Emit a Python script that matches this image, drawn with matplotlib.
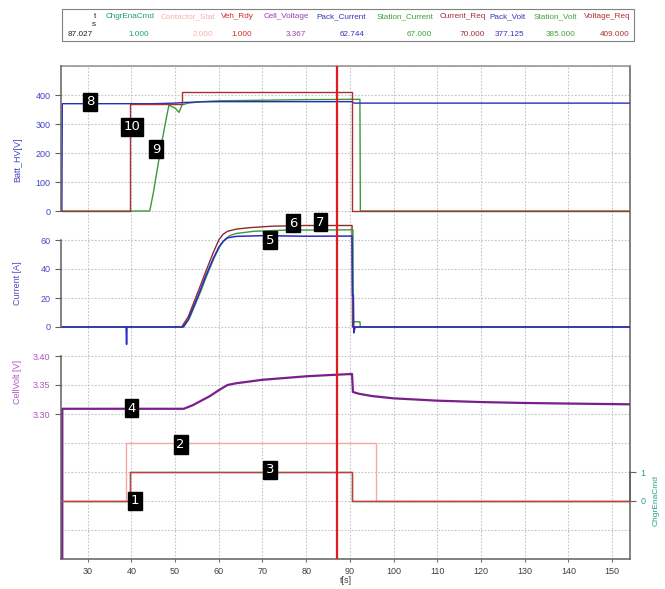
import matplotlib
matplotlib.use('Agg')
import matplotlib.pyplot as plt
from matplotlib.patches import Rectangle
from matplotlib.ticker import FormatStrFormatter

plt.rcParams['font.family'] = ['Liberation Sans', 'DejaVu Sans']

# --- header table (cursor readout) ---
header_names = ['t', 'ChgrEnaCmd', 'Contactor_Stat', 'Veh_Rdy', 'Cell_Voltage', 'Pack_Current',
                'Station_Current', 'Current_Req', 'Pack_Volt', 'Station_Volt', 'Voltage_Req']
header_values = ['87.027', '1.000', '2.000', '1.000', '3.367', '62.744',
                 '67.000', '70.000', '377.125', '385.000', '409.000']
header_colors = ['#202020', '#1f9c7c', '#f2b2ac', '#d42a2a', '#9a3fb0', '#3535c0',
                 '#3aa03a', '#a0303a', '#3535c0', '#40a040', '#b03030']
header_right = [96, 155, 215, 254, 309, 366, 433, 486, 525, 577, 630]
value_right = [93, 149, 213, 252, 306, 364, 432, 485, 524, 576, 630]

cursor_t = 87.027

# --- Batt_HV panel ---
pack_volt_t = [24.1, 24.2, 39.0, 45.0, 50.0, 52.0, 55.0, 60.0, 70.0, 80.0, 90.5, 91.0, 140.0, 154.1]
pack_volt_v = [0, 370, 370, 370, 372, 374, 376, 377, 377, 377, 377, 372, 372, 372]

volt_req_t = [24.1, 39.8, 39.8, 51.5, 51.5, 90.6, 90.6, 154.1]
volt_req_v = [0, 0, 370, 370, 409, 409, 0, 0]

station_volt_t = [24.1, 44.2, 45.0, 46.0, 47.0, 48.0, 48.6, 50.0, 50.9, 51.6, 53.0, 56.0,
                  60.0, 70.0, 80.0, 90.0, 92.3, 92.4, 154.1]
station_volt_v = [0, 0, 60, 150, 240, 320, 365, 355, 340, 366, 372, 377,
                  380, 382, 384, 385, 385, 0, 0]

# --- Current panel ---
pack_cur_t = [24.1, 38.8, 38.9, 39.0, 51.8, 53.0, 55.6, 57.0, 58.7, 60.0, 61.0, 62.0, 64.0,
              70.0, 80.0, 90.5, 90.6, 90.8, 90.9, 91.2, 154.1]
pack_cur_v = [0, 0, -12, 0, 0, 5, 24, 35, 47, 55, 59, 61.5, 62.5,
              63, 62.6, 62.7, 22, 22, -4, 0, 0]

cur_req_t = [24.1, 51.5, 53.0, 55.6, 57.0, 58.7, 60.0, 61.0, 62.0, 64.0, 67.0, 72.0, 80.0,
             90.5, 90.6, 154.1]
cur_req_v = [0, 0, 7, 27, 38, 51, 60, 64, 66, 67.5, 68.5, 69.5, 70,
             70, 0, 0]

station_cur_t = [24.1, 52.0, 53.3, 55.8, 57.2, 59.0, 60.3, 61.3, 62.5, 64.0, 68.0, 75.0,
                 90.7, 90.8, 92.3, 92.4, 154.1]
station_cur_v = [0, 0, 6, 24, 35, 48, 56, 60, 63, 64.5, 66, 66.8,
                 67, 3.6, 3.6, 0, 0]

# --- CellVolt panel ---
cell_t = [24.1, 24.2, 52.0, 54.0, 56.0, 58.0, 60.0, 62.0, 64.0, 67.0, 70.0, 75.0, 80.0, 85.0,
          90.5, 90.7, 92.0, 95.0, 100.0, 105.0, 110.0, 120.0, 130.0, 140.0, 154.1]
cell_v = [0.0, 3.309, 3.309, 3.315, 3.323, 3.331, 3.341, 3.350, 3.353, 3.356, 3.359, 3.362,
          3.365, 3.367, 3.369, 3.338, 3.335, 3.331, 3.327, 3.325, 3.323, 3.3206, 3.319,
          3.318, 3.3167]

# --- digital signals ---
chgr_t = [24.1, 39.6, 39.6, 90.6, 90.6, 154.1]
chgr_v = [0, 0, 1, 1, 0, 0]
contactor_t = [24.1, 38.7, 38.7, 95.9, 95.9, 154.1]
contactor_v = [0, 0, 2, 2, 0, 0]
vehrdy_t = [24.1, 39.7, 39.7, 90.6, 90.6, 154.1]
vehrdy_v = [0, 0, 1, 1, 0, 0]

# numbered markers: (text, t, grid row)
marker_labels = ['1', '2', '3', '4', '5', '6', '7', '8', '9', '10']
marker_t = [40.8, 51.3, 71.8, 40.0, 71.8, 77.0, 83.3, 30.5, 45.6, 40.1]
marker_row = [2.0, 3.95, 3.07, 5.2, 10.99, 11.58, 11.61, 15.77, 14.13, 14.9]

W, H = 665, 589
fig = plt.figure(figsize=(W / 100, H / 100), dpi=100)
pos = [61 / W, (H - 559) / H, (630 - 61) / W, (559 - 66) / H]

def px(x, y):
    return x / W, 1 - y / H

host = fig.add_axes(pos)
host.set_xlim(23.9, 154.1)
host.set_ylim(0, 17)
host.set_xticks(range(30, 151, 10))
host.set_yticks(range(18))
host.tick_params(axis='y', left=False, labelleft=False)
host.tick_params(axis='x', length=2, labelsize=6.5, labelcolor='#404040', color='#707070', pad=4)
host.grid(True, linestyle=(0, (1.5, 1.5)), color='#c4c4c4', linewidth=0.8)
host.spines['left'].set_visible(False)
for s in ['top', 'right', 'bottom']:
    host.spines[s].set_color('#606060')
    host.spines[s].set_linewidth(1.1)
host.spines['top'].set_color('#909090')
host.set_xlabel('t[s]', fontsize=6.5, color='#404040', labelpad=0)

def make_axis(ylim, bounds, ticks, color, side='left', fmt=None):
    a = fig.add_axes(pos, sharex=host, facecolor='none')
    for s in a.spines.values():
        s.set_visible(False)
    a.spines[side].set_visible(True)
    a.spines[side].set_bounds(*bounds)
    a.spines[side].set_color('#606060')
    a.spines[side].set_linewidth(1.1)
    a.set_ylim(*ylim)
    a.set_yticks(ticks)
    if side == 'right':
        a.yaxis.tick_right()
    a.tick_params(axis='y', labelsize=6.5, labelcolor=color, color='#606060', length=4)
    a.tick_params(axis='x', bottom=False, labelbottom=False)
    if fmt:
        a.yaxis.set_major_formatter(FormatStrFormatter(fmt))
    return a

ax_hv = make_axis((-1200, 500), (0, 500), [0, 100, 200, 300, 400], '#4545c5')
ax_cur = make_axis((-160, 180), (0, 60), [0, 20, 40, 60], '#4a4ac5')
ax_cell = make_axis((3.05, 3.90), (3.05, 3.40), [3.30, 3.35, 3.40], '#b055c0', fmt='%.2f')
ax_dig = make_axis((-2, 15), (0, 1), [0, 1], '#2aa08a', side='right')

ax_hv.plot(station_volt_t, station_volt_v, color='#3a9a3a', lw=1.0)
ax_hv.plot(pack_volt_t, pack_volt_v, color='#2a2ac0', lw=1.0)
ax_hv.plot(volt_req_t, volt_req_v, color='#a83038', lw=1.0)

ax_cur.plot(cur_req_t, cur_req_v, color='#8e2a30', lw=1.0)
ax_cur.plot(station_cur_t, station_cur_v, color='#3a9a3a', lw=1.0)
ax_cur.plot(pack_cur_t, pack_cur_v, color='#2a2ac8', lw=1.1)

ax_cell.plot(cell_t, cell_v, color='#7a1f8a', lw=1.6)

ax_dig.plot(contactor_t, contactor_v, color='#f2aaa4', lw=1.0)
ax_dig.plot(chgr_t, chgr_v, color='#1f9c7c', lw=1.0)
ax_dig.plot(vehrdy_t, vehrdy_v, color='#cc3a3a', lw=1.0)

# overlay for cursor and markers
ov = fig.add_axes(pos, sharex=host, facecolor='none')
ov.set_ylim(0, 17)
ov.axis('off')
ov.axvline(cursor_t, color='#e61a1e', lw=1.6)
for lab, tt, rr in zip(marker_labels, marker_t, marker_row):
    ov.text(tt, rr, lab, color='white', fontsize=9.5, ha='center', va='center',
            family='DejaVu Sans',
            bbox=dict(boxstyle='square,pad=0.2', facecolor='black', edgecolor='black'))

# axis titles
fig.text(*px(18, 160), 'Batt_HV[V]', rotation=90, ha='center', va='center', fontsize=6.5, color='#4545c5')
fig.text(*px(18, 283), 'Current [A]', rotation=90, ha='center', va='center', fontsize=6.5, color='#4a4ac5')
fig.text(*px(18, 382), 'CellVolt [V]', rotation=90, ha='center', va='center', fontsize=6.5, color='#b055c0')
fig.text(*px(656, 500), 'ChgrEnaCmd', rotation=90, ha='center', va='center', fontsize=6, color='#2aa08a')

# header table
fig.patches.append(Rectangle(px(62, 41), (634 - 62) / W, (41 - 9) / H, transform=fig.transFigure,
                             facecolor='white', edgecolor='#808080', lw=0.8))
for name, val, col, xr, xv in zip(header_names, header_values, header_colors, header_right, value_right):
    fig.text(*px(xr, 17), name, ha='right', va='center', fontsize=5.9, color=col)
    fig.text(*px(xv, 34), val, ha='right', va='center', fontsize=5.9,
             color='#202020' if name == 't' else col)
fig.text(*px(96, 25), 's', ha='right', va='center', fontsize=5.9, color='#202020')

fig.savefig('out.png', dpi=100)
